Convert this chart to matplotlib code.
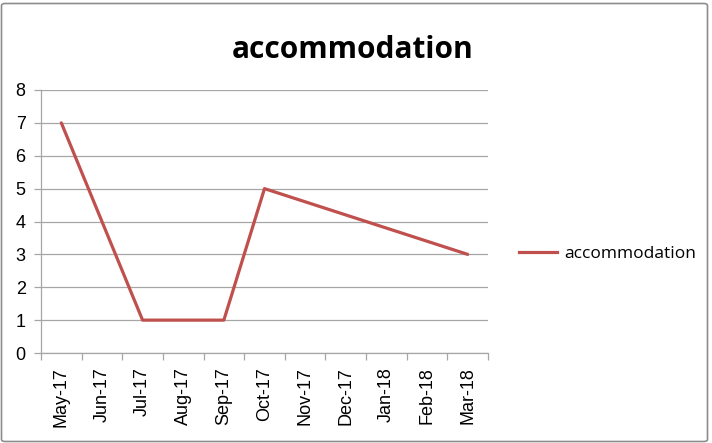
import matplotlib.pyplot as plt
from matplotlib.patches import FancyBboxPatch
from matplotlib.lines import Line2D

months = ['May-17', 'Jun-17', 'Jul-17', 'Aug-17', 'Sep-17', 'Oct-17',
          'Nov-17', 'Dec-17', 'Jan-18', 'Feb-18', 'Mar-18']
# months without a value are bridged by the line, as in the source
values = [7, None, 1, None, 1, 5, None, None, None, None, 3]

line_color = '#C0504D'
grid_color = '#A6A6A6'

fig = plt.figure(figsize=(7.12, 4.43), dpi=100)
W, H = 712, 443
ax = fig.add_axes([41 / W, 1 - 353 / H, (488 - 41) / W, (353 - 90) / H])

xs = [i for i, v in enumerate(values) if v is not None]
ys = [v for v in values if v is not None]
ax.plot(xs, ys, color=line_color, lw=2.3, solid_capstyle='round', zorder=3)

ax.set_xlim(-0.5, len(months) - 0.5)
ax.set_ylim(0, 8)
ax.set_yticks(range(0, 9))
ax.yaxis.grid(True, color=grid_color, lw=0.9)
ax.set_axisbelow(True)

ax.set_xticks(range(len(months)))
ax.set_xticklabels(months, rotation=90, fontsize=13, family='Liberation Sans')
ax.tick_params(axis='x', length=0, pad=10)
ax.set_xticks([i - 0.5 for i in range(len(months) + 1)], minor=True)
ax.tick_params(axis='x', which='minor', length=5, color=grid_color, width=0.9)
ax.tick_params(axis='y', length=5, color=grid_color, width=0.9, labelsize=13, pad=6)
for lab in ax.get_yticklabels():
    lab.set_family('Liberation Sans')

for s in ['top', 'right']:
    ax.spines[s].set_visible(False)
ax.spines['left'].set_color(grid_color)
ax.spines['bottom'].set_color(grid_color)
ax.spines['left'].set_linewidth(0.9)
ax.spines['bottom'].set_linewidth(0.9)

fig.text(353 / W, 1 - 50 / H, 'accommodation', ha='center', va='center',
         fontsize=21.5, fontweight='bold', family='Open Sans')

handle = Line2D([], [], color=line_color, lw=2.3)
fig.legend([handle], ['accommodation'], loc='center left',
           bbox_to_anchor=(503 / W, 1 - 254 / H), frameon=False,
           prop={'family': 'Open Sans', 'size': 12.5},
           handlelength=2.2, handletextpad=0.4)

border = FancyBboxPatch((1.5 / W, 1.5 / H), (W - 6) / W, (H - 5) / H,
                        boxstyle='round,pad=0,rounding_size=0.005',
                        transform=fig.transFigure, fill=False,
                        edgecolor='#8C8C8C', lw=1.2)
fig.add_artist(border)

fig.savefig('out.png', dpi=100)
